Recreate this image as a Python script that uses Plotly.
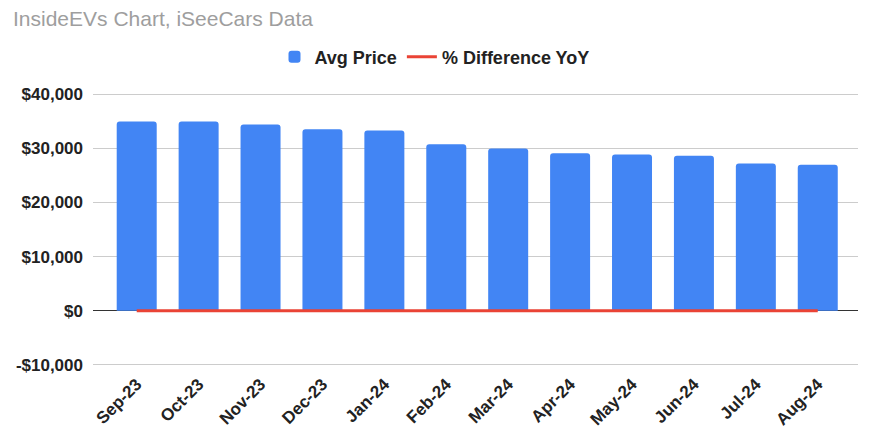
import plotly.graph_objects as go

months = ["Sep-23", "Oct-23", "Nov-23", "Dec-23", "Jan-24", "Feb-24",
          "Mar-24", "Apr-24", "May-24", "Jun-24", "Jul-24", "Aug-24"]
avg_price = [34940, 34930, 34380, 33520, 33280, 30750,
             29960, 29100, 28860, 28600, 27200, 26940]
pct_diff_yoy = [-0.19, -0.2, -0.21, -0.2, -0.22, -0.24,
                -0.25, -0.26, -0.25, -0.24, -0.27, -0.28]
y_tickvals = [-10000, 0, 10000, 20000, 30000, 40000]
y_ticktext = ["-$10,000", "$0", "$10,000", "$20,000", "$30,000", "$40,000"]

FONT = "Arial, Liberation Sans, sans-serif"
x = list(range(len(months)))

fig = go.Figure()
fig.add_trace(go.Bar(
    x=x, y=avg_price, name="Avg Price",
    marker=dict(color="#4285F4", cornerradius=3, line=dict(width=0)),
    width=0.646,
))
fig.add_trace(go.Scatter(
    x=x, y=pct_diff_yoy, name="% Difference YoY", mode="lines",
    line=dict(color="#EA4335", width=3),
))

fig.update_layout(
    width=869, height=442,
    margin=dict(l=93, r=11, t=93, b=76, autoexpand=False),
    paper_bgcolor="white", plot_bgcolor="white",
    font=dict(family=FONT, size=17, color="#222222"),
    title=dict(text="InsideEVs Chart, iSeeCars Data", x=13/869, xref="container",
               xanchor="left", y=1-19/442, yref="container", yanchor="middle",
               font=dict(family=FONT, size=21, color="#9e9e9e")),
    showlegend=True,
    legend=dict(orientation="h", x=0.5, xanchor="center", xref="container",
                y=1-57/442, yref="container", yanchor="middle",
                font=dict(family=FONT, size=18, color="#222222", weight="bold"),
                traceorder="normal", itemwidth=30),
    bargap=0.35,
)
fig.update_xaxes(
    range=[-0.706, 11.65], tickvals=x, ticktext=months, tickangle=-45,
    showgrid=False, showline=False, ticks="", zeroline=False,
    ticklabelstandoff=4, automargin=False,
    tickfont=dict(family=FONT, size=17, color="#222222", weight="bold"),
)
fig.update_yaxes(
    range=[-10200, 40200], tickvals=y_tickvals, ticktext=y_ticktext,
    showgrid=True, gridcolor="#cccccc", gridwidth=1,
    zeroline=True, zerolinecolor="#333333", zerolinewidth=1,
    showline=False, ticks="", ticklabelstandoff=9, automargin=False,
    tickfont=dict(family=FONT, size=17, color="#222222", weight="bold"),
)

fig.write_html("out.html")
